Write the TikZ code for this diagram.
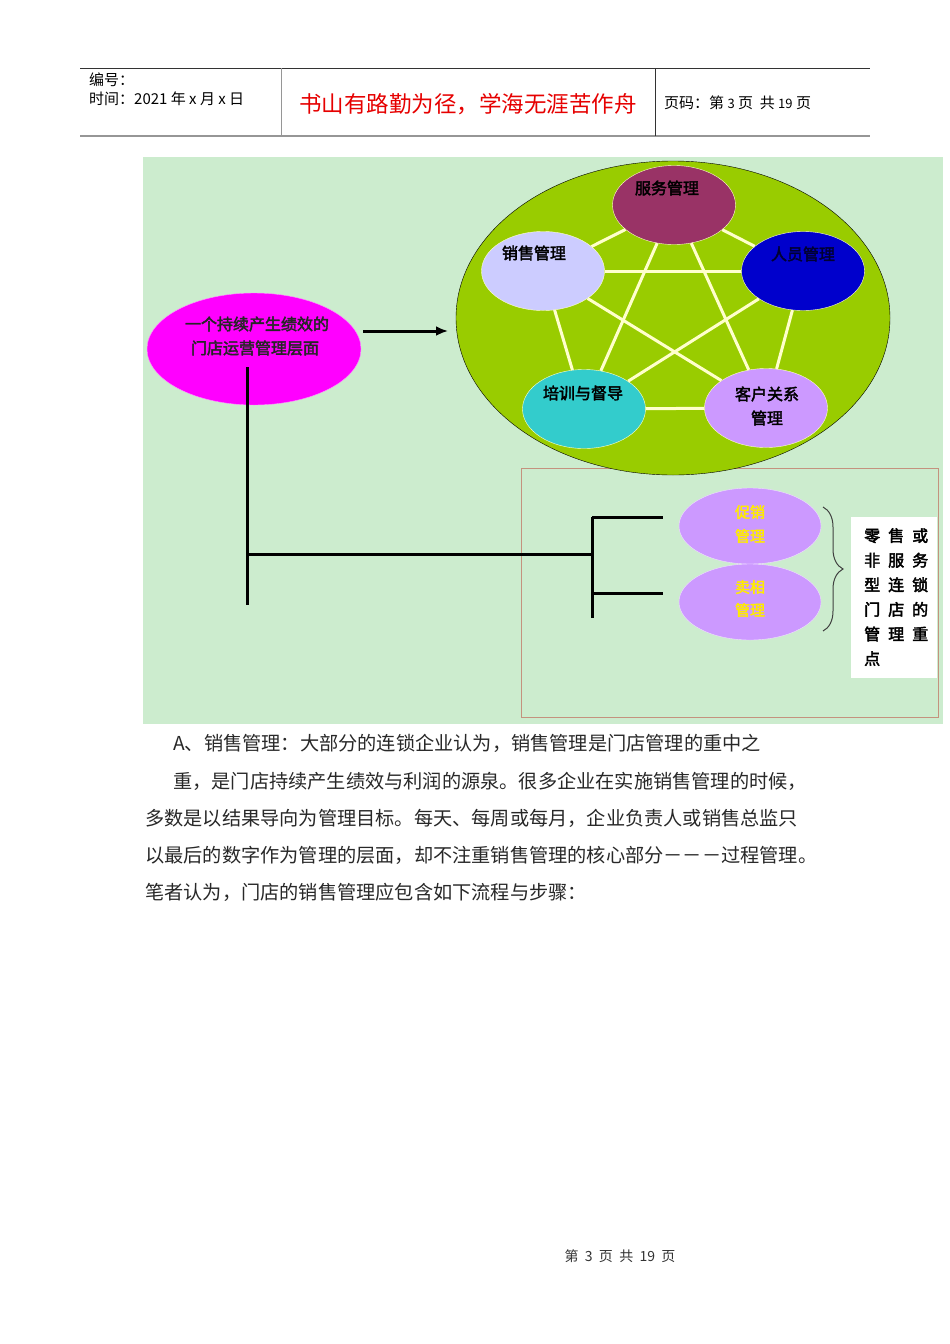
\documentclass[tikz,border=0pt]{standalone}
\usepackage{fontspec}
\setmainfont{Noto Sans CJK SC}
\newfontfamily\heavycjk[FakeBold=2.5]{Noto Sans CJK SC}
\usetikzlibrary{shapes.geometric,decorations.pathreplacing,arrows.meta}
\definecolor{pageGreen}{RGB}{204,236,206}
\definecolor{ringGreen}{RGB}{153,204,0}
\definecolor{serviceRed}{RGB}{153,51,102}
\definecolor{salesLilac}{RGB}{204,204,255}
\definecolor{staffBlue}{RGB}{0,0,204}
\definecolor{trainCyan}{RGB}{51,204,204}
\definecolor{clientPurple}{RGB}{204,153,255}
\definecolor{starCream}{RGB}{255,255,204}
\definecolor{storePink}{RGB}{255,0,255}
\definecolor{storeRim}{RGB}{255,150,255}
\definecolor{frameBrown}{RGB}{196,146,126}
\definecolor{headGray}{RGB}{150,150,150}
\definecolor{bodyText}{RGB}{40,40,40}
\definecolor{titleRed}{RGB}{230,0,0}

\begin{document}
\begin{tikzpicture}[x=1pt, y=-1pt, every node/.append style={inner sep=0pt}]
		\useasboundingbox (0,0) rectangle (950,1344);
		\fill[white] (0,0) rectangle (950,1344);

		% Header
		\draw[black!80, line width=0.8pt] (80,68) -- (870,68);
		\draw[headGray, line width=2pt] (80,136) -- (870,136);
		\draw[headGray, line width=1pt] (281,68) -- (281,136);
		\draw[black!80, line width=0.8pt] (655,68) -- (655,136);
		\node[anchor=west, font=\fontsize{15}{15}\selectfont] (hdrNo) at (89,80) {编号：};
		\node[anchor=west, font=\fontsize{15}{15}\selectfont] (hdrDate) at (89,99) {时间：2021 年 x 月 x 日};
		\node[titleRed, font=\fontsize{22.5}{22.5}\selectfont] (hdrTitle) at (468,104) {书山有路勤为径，学海无涯苦作舟};
		\node[anchor=west, font=\fontsize{15}{15}\selectfont] (hdrPage) at (664,103) {页码：第 {\fontsize{13}{13}\selectfont 3} 页 \ 共 {\fontsize{13}{13}\selectfont 19} 页};

		% Picture ground
		\fill[pageGreen] (143,157) rectangle (943,724);
		\draw[frameBrown, line width=1pt] (521,468) rectangle (938,717);

		% Ring of five
		\node[ellipse, draw=black, thin, fill=ringGreen, minimum width=434pt, minimum height=314pt] (ring) at (673,318) {};
		\begin{scope}[every node/.style={ellipse, draw=starCream, thin, inner sep=0pt, minimum width=123pt, minimum height=79pt}]
			\node[fill=serviceRed] (service) at (674,205) {};
			\node[fill=salesLilac] (sales) at (543,271) {};
			\node[fill=staffBlue] (staff) at (803,271) {};
			\node[fill=trainCyan] (train) at (584,409) {};
			\node[fill=clientPurple] (client) at (766,408) {};
		\end{scope}
		\begin{scope}[every node/.style={font=\heavycjk\fontsize{16}{16}\selectfont}]
			\node (serviceT) at (667,188) {服务管理};
			\node (salesT) at (534,253) {销售管理};
			\node[black!80!blue] (staffT) at (803,254) {人员管理};
			\node (trainT) at (583,393) {培训与督导};
			\node (clientT) at (767,394) {客户关系};
			\node (clientT2) at (767,418) {管理};
		\end{scope}

		% Star lines
		\begin{scope}[every edge/.style={draw=starCream, line width=3pt}]
			\path (service) edge (sales);
			\path (service) edge (staff);
			\path (sales) edge (staff);
			\path (sales) edge (train);
			\path (staff) edge (client);
			\path (train) edge (client);
			\path (service) edge (train);
			\path (service) edge (client);
			\path (sales) edge (client);
			\path (staff) edge (train);
		\end{scope}

		% Store level
		\node[ellipse, draw=storeRim, fill=storePink, minimum width=214pt, minimum height=112pt] (store) at (254,349) {};
		\node[font=\heavycjk\fontsize{16}{16}\selectfont, black!85] (storeT) at (257,324) {一个持续产生绩效的};
		\node[font=\heavycjk\fontsize{16}{16}\selectfont, black!85] (storeT2) at (255,348) {门店运营管理层面};
		\coordinate (arrowS) at (363,331);
		\coordinate (arrowE) at (448,331);
		\draw[line width=3pt, -{Latex[length=12pt, width=10pt]}] (arrowS) -- (arrowE);

		% Tree
		\coordinate (treeTop) at (247,367);
		\coordinate (treeBot) at (247,605);
		\coordinate (treeMid) at (247,554);
		\coordinate (forkMid) at (592,554);
		\coordinate (forkTop) at (592,517);
		\coordinate (forkLow) at (592,593);
		\coordinate (forkBot) at (592,618);
		\coordinate (armTop) at (663,517);
		\coordinate (armLow) at (663,593);
		\begin{scope}[line width=3pt]
			\draw (treeTop) -- (treeBot);
			\draw (treeMid) -- (forkMid);
			\draw (forkTop) -- (forkBot);
			\draw (forkTop) -- (armTop);
			\draw (forkLow) -- (armLow);
		\end{scope}

		% Promotion and display
		\begin{scope}[every node/.style={ellipse, draw=white!70!clientPurple, thin, fill=clientPurple, inner sep=0pt, minimum width=142pt, minimum height=76pt}]
			\node (promo) at (750,526) {};
			\node (display) at (750,602) {};
		\end{scope}
		\begin{scope}[every node/.style={font=\heavycjk\fontsize{15}{15}\selectfont, text={rgb,255:red,255;green,235;blue,0}}]
			\node (promoT) at (750,512) {促销};
			\node (promoT2) at (750,536) {管理};
			\node (displayT) at (750,587) {卖相};
			\node (displayT2) at (750,610) {管理};
		\end{scope}

		% Brace and note
		\coordinate (braceTop) at (823,507);
		\coordinate (braceBot) at (823,631);
		\draw[black!75, line width=1pt, decorate, decoration={brace, amplitude=20pt}] (braceTop) -- (braceBot);
		\node[fill=white, minimum width=86pt, minimum height=161pt] (note) at (894,597.5) {};
		\node[anchor=north west, align=left, font=\heavycjk\fontsize{16}{24.6}\selectfont] (noteT) at (864,528) {零\hspace{8pt}售\hspace{8pt}或\\非\hspace{8pt}服\hspace{8pt}务\\型\hspace{8pt}连\hspace{8pt}锁\\门\hspace{8pt}店\hspace{8pt}的\\管\hspace{8pt}理\hspace{8pt}重\\点};

		% Body text
		\begin{scope}[every node/.style={anchor=west, inner sep=0pt, text=bodyText, font=\fontsize{19.2}{19.2}\selectfont}]
			\node (line1) at (173,743) {A、销售管理：大部分的连锁企业认为，销售管理是门店管理的重中之};
			\node (line2) at (173,781) {重，是门店持续产生绩效与利润的源泉。很多企业在实施销售管理的时候，};
			\node (line3) at (145,818) {多数是以结果导向为管理目标。每天、每周或每月，企业负责人或销售总监只};
			\node (line4) at (145,855) {以最后的数字作为管理的层面，却不注重销售管理的核心部分－－－过程管理。};
			\node (line5) at (145,892) {笔者认为，门店的销售管理应包含如下流程与步骤：};
		\end{scope}

		% Footer
		\node[font=\fontsize{14}{14}\selectfont, black!80] (footer) at (620,1256) {第 \ 3 \ 页 \ 共 \ 19 \ 页};
	\end{tikzpicture}
\end{document}
